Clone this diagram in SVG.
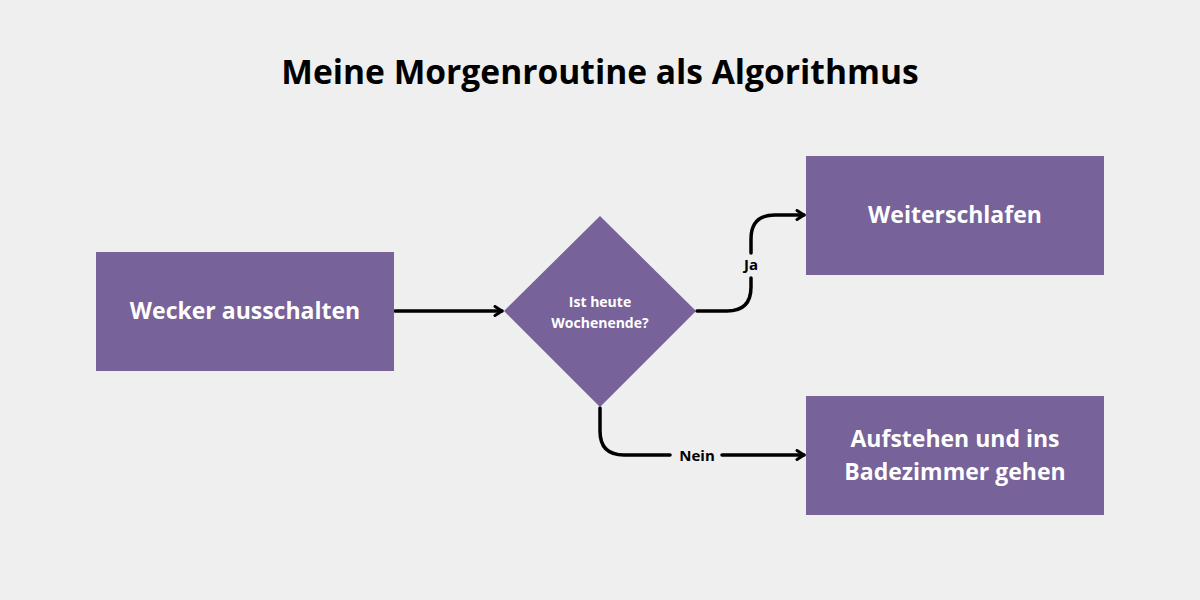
<svg xmlns="http://www.w3.org/2000/svg" width="1200" height="600" viewBox="0 0 1200 600">
<style>
.node{fill:#77629a}
.t{font-family:"Open Sans","Liberation Sans",sans-serif;font-weight:700;fill:#ffffff;text-anchor:middle}
.conn{fill:none;stroke:#000;stroke-width:3.5;stroke-linecap:round;stroke-linejoin:round}
.lbl{font-family:"Open Sans","Liberation Sans",sans-serif;font-weight:700;font-size:15px;fill:#000;text-anchor:middle}
</style>
<defs>
<marker id="arr" viewBox="0 0 12 12" refX="10" refY="6" markerWidth="12" markerHeight="12" markerUnits="userSpaceOnUse" orient="auto">
<path d="M3,1.5 L10,6 L3,10.5" fill="none" stroke="#000" stroke-width="3" stroke-linecap="round" stroke-linejoin="round"/>
</marker>
</defs>
<rect width="1200" height="600" fill="#efefef"/>
<text x="600" y="84" font-family="Open Sans, Liberation Sans, sans-serif" font-weight="700" font-size="33.6" text-anchor="middle" fill="#000">Meine Morgenroutine als Algorithmus</text>
<g id="connectors">
<path class="conn" d="M395,311 L502,311" marker-end="url(#arr)"/>
<path class="conn" d="M697,311 L727,311 Q751,311 751,287 L751,278"/>
<path class="conn" d="M751,253 L751,239 Q751,215 775,215 L804,215" marker-end="url(#arr)"/>
<path class="conn" d="M600,408 L600,431 Q600,455 624,455 L670,455"/>
<path class="conn" d="M722,455 L804,455" marker-end="url(#arr)"/>
<text class="lbl" x="751" y="270">Ja</text>
<text class="lbl" x="697" y="461">Nein</text>
</g>
<g id="n1">
<rect class="node" x="96" y="252" width="298" height="119"/>
<text class="t" x="245" y="319" font-size="23">Wecker ausschalten</text>
</g>
<g id="n2">
<polygon class="node" points="600,216 696,311 600,407 504,311"/>
<text class="t" x="600" y="307" font-size="14">Ist heute</text>
<text class="t" x="600" y="328" font-size="14">Wochenende?</text>
</g>
<g id="n3">
<rect class="node" x="806" y="156" width="298" height="119"/>
<text class="t" x="955" y="223" font-size="23">Weiterschlafen</text>
</g>
<g id="n4">
<rect class="node" x="806" y="396" width="298" height="119"/>
<text class="t" x="955" y="447" font-size="23">Aufstehen und ins</text>
<text class="t" x="955" y="480" font-size="23">Badezimmer gehen</text>
</g>
</svg>
